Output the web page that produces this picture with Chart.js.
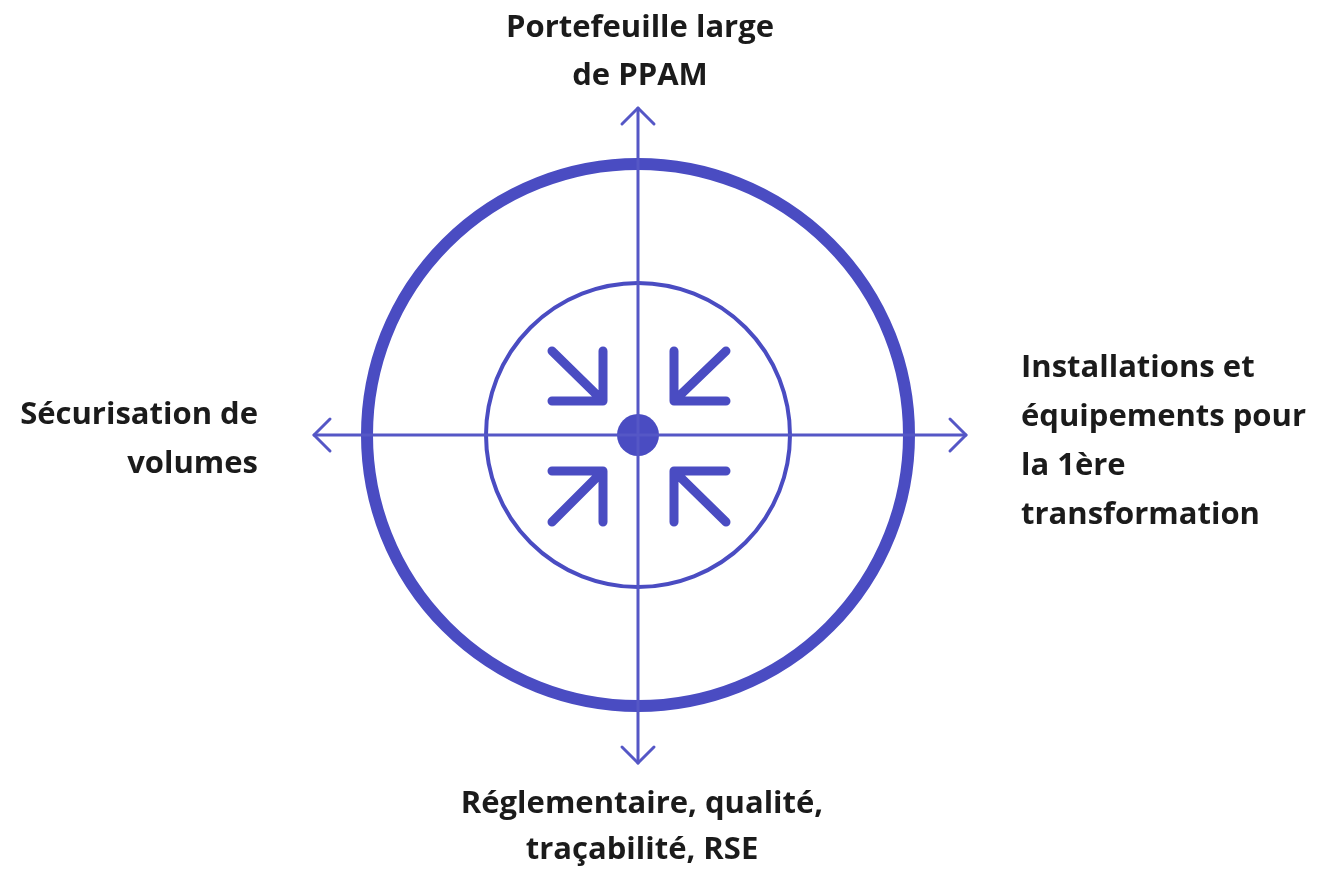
<!DOCTYPE html>
<html>
<head>
<meta charset="utf-8">
<script src="https://cdn.jsdelivr.net/npm/chart.js@4.4.1/dist/chart.umd.min.js"></script>
<style>
    body { margin: 0; background: #fff; }
    #wrap { position: relative; width: 1317px; height: 869px; }
</style>
</head>
<body>
<div id="wrap"><canvas id="myChart"></canvas></div>
<script>
// diagram units: centre of the target at 0,0
const centre = [{ x: 0, y: 0 }];
const axisX = [-3.24, 3.28];
const axisY = [-3.28, 3.27];
const arrowHead = 0.16;

// inward arrows: tip and tail of each shaft
const arrowTips = [[-0.35, 0.34], [0.36, 0.34], [-0.35, -0.36], [0.36, -0.36]];
const arrowTails = [[-0.86, 0.84], [0.88, 0.84], [-0.86, -0.87], [0.88, -0.87]];

const topLabel = ['Portefeuille large', 'de PPAM'];
const bottomLabel = ['Réglementaire, qualité,', 'traçabilité, RSE'];
const leftLabel = ['Sécurisation de', 'volumes'];
const rightLabel = ['Installations et', 'équipements pour', 'la 1ère', 'transformation'];

const BLUE = '#4a4cc2';
const LINE_BLUE = '#5557c6';

function lineSet(points, width, color) {
    return {
        type: 'scatter',
        data: points,
        showLine: true,
        borderColor: color,
        borderWidth: width,
        borderCapStyle: 'round',
        borderJoinStyle: 'round',
        pointRadius: 0,
        pointHoverRadius: 0,
        fill: false,
        clip: false,
    };
}

function ringSet(radius, width) {
    return {
        type: 'scatter',
        data: centre,
        pointRadius: radius,
        pointHoverRadius: radius,
        pointBorderWidth: width,
        pointBorderColor: BLUE,
        pointBackgroundColor: 'rgba(0,0,0,0)',
        clip: false,
    };
}

const datasets = [];

// cross axes
datasets.push(lineSet([{ x: axisX[0], y: 0 }, { x: axisX[1], y: 0 }], 3, LINE_BLUE));
datasets.push(lineSet([{ x: 0, y: axisY[0] }, { x: 0, y: axisY[1] }], 3, LINE_BLUE));

// open arrow heads on the axis ends
const h = arrowHead;
datasets.push(lineSet([{ x: axisX[0] + h, y: h }, { x: axisX[0], y: 0 }, { x: axisX[0] + h, y: -h }], 3, LINE_BLUE));
datasets.push(lineSet([{ x: axisX[1] - h, y: h }, { x: axisX[1], y: 0 }, { x: axisX[1] - h, y: -h }], 3, LINE_BLUE));
datasets.push(lineSet([{ x: -h, y: axisY[1] - h }, { x: 0, y: axisY[1] }, { x: h, y: axisY[1] - h }], 3, LINE_BLUE));
datasets.push(lineSet([{ x: -h, y: axisY[0] + h }, { x: 0, y: axisY[0] }, { x: h, y: axisY[0] + h }], 3, LINE_BLUE));

// rings
datasets.push(ringSet(271, 12));
datasets.push(ringSet(152, 4));

// inward arrows (corner head at the tip)
for (let i = 0; i < arrowTips.length; i++) {
    const tip = arrowTips[i];
    const tail = arrowTails[i];
    datasets.push(lineSet([
        { x: tip[0], y: tail[1] },
        { x: tip[0], y: tip[1] },
        { x: tail[0], y: tip[1] },
        { x: tip[0], y: tip[1] },
        { x: tail[0], y: tail[1] },
    ], 9, BLUE));
}

// centre dot
datasets.push({
    type: 'scatter',
    data: centre,
    pointRadius: 21,
    pointHoverRadius: 21,
    pointBorderWidth: 0,
    pointBackgroundColor: BLUE,
    clip: false,
});

// where the captions sit (diagram units) and how they are aligned
const labelLayout = [
    { lines: topLabel, x: 0.02, y: 3.98, align: 'center', gap: 48 },
    { lines: bottomLabel, x: 0.04, y: -3.78, align: 'center', gap: 46 },
    { lines: leftLabel, x: -3.80, y: 0.11, align: 'right', gap: 49 },
    { lines: rightLabel, x: 3.83, y: 0.58, align: 'left', gap: 49 },
];

const captions = {
    id: 'captions',
    afterDatasetsDraw(chart) {
        const ctx = chart.ctx;
        const xs = chart.scales.x;
        const ys = chart.scales.y;
        ctx.save();
        ctx.fillStyle = '#1b1b1b';
        ctx.font = 'bold 31px "Open Sans"';
        ctx.textBaseline = 'alphabetic';
        labelLayout.forEach((item) => {
            ctx.textAlign = item.align;
            const px = xs.getPixelForValue(item.x);
            const py = ys.getPixelForValue(item.y);
            item.lines.forEach((line, i) => {
                ctx.fillText(line, px, py + i * item.gap);
            });
        });
        ctx.restore();
    }
};

var ctx = document.getElementById('myChart').getContext('2d');
var chart = new Chart(ctx, { //eslint-disable-line
    type: 'scatter',
    data: { datasets: datasets },
    options: {
        responsive: true,
        maintainAspectRatio: false,
        animation: false,
        events: [],
        layout: { padding: 0, autoPadding: false },
        plugins: {
            legend: { display: false },
            tooltip: { enabled: false },
        },
        scales: {
            x: { type: 'linear', min: -6.38, max: 6.79, display: false },
            y: { type: 'linear', min: -4.34, max: 4.35, display: false },
        },
    },
    plugins: [captions],
});
</script>
</body>
</html>
